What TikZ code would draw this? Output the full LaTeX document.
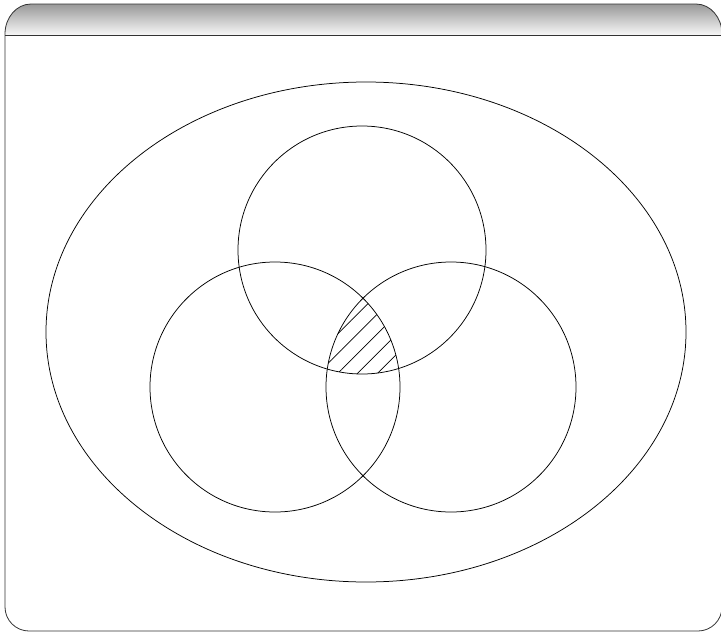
\documentclass[tikz,border=0pt]{standalone}
\usetikzlibrary{patterns.meta}
\begin{document}
\begin{tikzpicture}[x=1pt,y=-1pt,frame/.style={draw=black!80,line width=0.8pt},venn/.style={draw=black,line width=0.75pt},hatch/.style={pattern={Lines[angle=45,distance=14pt,line width=0.7pt]}}]
\useasboundingbox (0,0) rectangle (721,632);
\clip (0,0) rectangle (721,632);
\coordinate (top) at (362,250);
\coordinate (left) at (275,387);
\coordinate (right) at (451,387);
\coordinate (all) at (366,332);
% title bar
\shade[top color=black!40,bottom color=black!3] (5,35) -- (5,34) arc[start angle=180,end angle=270,x radius=26,y radius=30] -- (696,4) arc[start angle=270,end angle=360,x radius=26,y radius=30] -- (722,35) -- cycle;
\draw[frame] (5,35) -- (722,35);
\draw[frame] (5,34) arc[start angle=180,end angle=270,x radius=26,y radius=30] -- (696,4) arc[start angle=270,end angle=360,x radius=26,y radius=30] -- (722,607) arc[start angle=0,end angle=90,radius=24] -- (29,631) arc[start angle=90,end angle=180,radius=24] -- cycle;
% sets
\begin{scope}
\clip (top) circle[radius=124];
\clip (left) circle[radius=125];
\fill[hatch] (right) circle[radius=125];
\end{scope}
\draw[venn] (all) ellipse[x radius=320,y radius=250];
\foreach \c/\r in {top/124,left/125,right/125} {
   \draw[venn] (\c) circle[radius=\r];
}
\end{tikzpicture}
\end{document}
